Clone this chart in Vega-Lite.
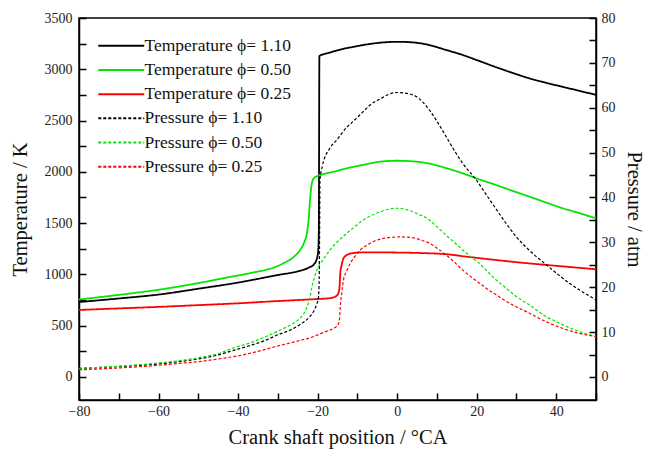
{
  "$schema": "https://vega.github.io/schema/vega-lite/v6.json",
  "autosize": {"type": "none"},
  "padding": {"left": 79, "top": 18, "right": 51, "bottom": 59},
  "width": 517,
  "height": 382,
  "background": "white",
  "config": {
    "view": {"stroke": "black", "strokeWidth": 1.5},
    "font": "Liberation Serif",
    "axis": {
      "grid": false,
      "domainColor": "black",
      "domainWidth": 1.5,
      "tickColor": "black",
      "tickWidth": 1.5,
      "labelFont": "Liberation Serif",
      "labelFontSize": 14,
      "labelColor": "#222",
      "titleFont": "Liberation Serif",
      "titleFontSize": 20.5,
      "titleFontWeight": "normal",
      "titleColor": "#111",
      "labelFlush": false,
      "labelOverlap": false
    },
    "legend": {
      "labelFont": "Liberation Serif",
      "labelFontSize": 17.5,
      "labelColor": "#111"
    }
  },
  "datasets": {
    "temperature": [
      {"angle": -80, "series": "Temperature ϕ= 1.10", "T": 730},
      {"angle": -70, "series": "Temperature ϕ= 1.10", "T": 765},
      {"angle": -60, "series": "Temperature ϕ= 1.10", "T": 803},
      {"angle": -50, "series": "Temperature ϕ= 1.10", "T": 860},
      {"angle": -40, "series": "Temperature ϕ= 1.10", "T": 920},
      {"angle": -30, "series": "Temperature ϕ= 1.10", "T": 994},
      {"angle": -25, "series": "Temperature ϕ= 1.10", "T": 1030},
      {"angle": -22, "series": "Temperature ϕ= 1.10", "T": 1070},
      {"angle": -21, "series": "Temperature ϕ= 1.10", "T": 1095},
      {"angle": -20.3, "series": "Temperature ϕ= 1.10", "T": 1140},
      {"angle": -19.9, "series": "Temperature ϕ= 1.10", "T": 1210},
      {"angle": -19.7, "series": "Temperature ϕ= 1.10", "T": 1400},
      {"angle": -19.55, "series": "Temperature ϕ= 1.10", "T": 3129},
      {"angle": -17, "series": "Temperature ϕ= 1.10", "T": 3162},
      {"angle": -14, "series": "Temperature ϕ= 1.10", "T": 3195},
      {"angle": -11, "series": "Temperature ϕ= 1.10", "T": 3219},
      {"angle": -8, "series": "Temperature ϕ= 1.10", "T": 3240},
      {"angle": -4.3, "series": "Temperature ϕ= 1.10", "T": 3259},
      {"angle": 0, "series": "Temperature ϕ= 1.10", "T": 3268},
      {"angle": 4, "series": "Temperature ϕ= 1.10", "T": 3262},
      {"angle": 8.1, "series": "Temperature ϕ= 1.10", "T": 3236},
      {"angle": 12, "series": "Temperature ϕ= 1.10", "T": 3192},
      {"angle": 16.5, "series": "Temperature ϕ= 1.10", "T": 3139},
      {"angle": 20, "series": "Temperature ϕ= 1.10", "T": 3090},
      {"angle": 24.9, "series": "Temperature ϕ= 1.10", "T": 3020},
      {"angle": 29, "series": "Temperature ϕ= 1.10", "T": 2965},
      {"angle": 33.3, "series": "Temperature ϕ= 1.10", "T": 2911},
      {"angle": 37.5, "series": "Temperature ϕ= 1.10", "T": 2868},
      {"angle": 41.7, "series": "Temperature ϕ= 1.10", "T": 2828},
      {"angle": 46, "series": "Temperature ϕ= 1.10", "T": 2788},
      {"angle": 50, "series": "Temperature ϕ= 1.10", "T": 2750},

      {"angle": -80, "series": "Temperature ϕ= 0.50", "T": 755},
      {"angle": -70, "series": "Temperature ϕ= 0.50", "T": 800},
      {"angle": -60, "series": "Temperature ϕ= 0.50", "T": 850},
      {"angle": -50, "series": "Temperature ϕ= 0.50", "T": 915},
      {"angle": -42, "series": "Temperature ϕ= 0.50", "T": 975},
      {"angle": -37, "series": "Temperature ϕ= 0.50", "T": 1012},
      {"angle": -30, "series": "Temperature ϕ= 0.50", "T": 1082},
      {"angle": -28.6, "series": "Temperature ϕ= 0.50", "T": 1108},
      {"angle": -26, "series": "Temperature ϕ= 0.50", "T": 1170},
      {"angle": -24.4, "series": "Temperature ϕ= 0.50", "T": 1238},
      {"angle": -23.3, "series": "Temperature ϕ= 0.50", "T": 1320},
      {"angle": -22.7, "series": "Temperature ϕ= 0.50", "T": 1400},
      {"angle": -22.2, "series": "Temperature ϕ= 0.50", "T": 1560},
      {"angle": -21.9, "series": "Temperature ϕ= 0.50", "T": 1725},
      {"angle": -21.45, "series": "Temperature ϕ= 0.50", "T": 1888},
      {"angle": -21, "series": "Temperature ϕ= 0.50", "T": 1935},
      {"angle": -20.3, "series": "Temperature ϕ= 0.50", "T": 1955},
      {"angle": -19.4, "series": "Temperature ϕ= 0.50", "T": 1969},
      {"angle": -16, "series": "Temperature ϕ= 0.50", "T": 2000},
      {"angle": -12.7, "series": "Temperature ϕ= 0.50", "T": 2034},
      {"angle": -8, "series": "Temperature ϕ= 0.50", "T": 2072},
      {"angle": -4.3, "series": "Temperature ϕ= 0.50", "T": 2099},
      {"angle": 0, "series": "Temperature ϕ= 0.50", "T": 2108},
      {"angle": 4, "series": "Temperature ϕ= 0.50", "T": 2102},
      {"angle": 8.1, "series": "Temperature ϕ= 0.50", "T": 2080},
      {"angle": 12, "series": "Temperature ϕ= 0.50", "T": 2040},
      {"angle": 16.5, "series": "Temperature ϕ= 0.50", "T": 1985},
      {"angle": 19.9, "series": "Temperature ϕ= 0.50", "T": 1937},
      {"angle": 24.9, "series": "Temperature ϕ= 0.50", "T": 1871},
      {"angle": 29, "series": "Temperature ϕ= 0.50", "T": 1815},
      {"angle": 33.3, "series": "Temperature ϕ= 0.50", "T": 1757},
      {"angle": 37.5, "series": "Temperature ϕ= 0.50", "T": 1700},
      {"angle": 41.7, "series": "Temperature ϕ= 0.50", "T": 1644},
      {"angle": 46, "series": "Temperature ϕ= 0.50", "T": 1595},
      {"angle": 50, "series": "Temperature ϕ= 0.50", "T": 1547},

      {"angle": -80, "series": "Temperature ϕ= 0.25", "T": 653},
      {"angle": -70, "series": "Temperature ϕ= 0.25", "T": 668},
      {"angle": -60, "series": "Temperature ϕ= 0.25", "T": 683},
      {"angle": -50, "series": "Temperature ϕ= 0.25", "T": 700},
      {"angle": -40, "series": "Temperature ϕ= 0.25", "T": 718},
      {"angle": -30, "series": "Temperature ϕ= 0.25", "T": 740},
      {"angle": -20, "series": "Temperature ϕ= 0.25", "T": 760},
      {"angle": -16.9, "series": "Temperature ϕ= 0.25", "T": 768},
      {"angle": -15.6, "series": "Temperature ϕ= 0.25", "T": 783},
      {"angle": -15, "series": "Temperature ϕ= 0.25", "T": 800},
      {"angle": -14.6, "series": "Temperature ϕ= 0.25", "T": 840},
      {"angle": -14.45, "series": "Temperature ϕ= 0.25", "T": 900},
      {"angle": -14.3, "series": "Temperature ϕ= 0.25", "T": 1011},
      {"angle": -13.9, "series": "Temperature ϕ= 0.25", "T": 1100},
      {"angle": -13.5, "series": "Temperature ϕ= 0.25", "T": 1157},
      {"angle": -12.8, "series": "Temperature ϕ= 0.25", "T": 1185},
      {"angle": -12.2, "series": "Temperature ϕ= 0.25", "T": 1198},
      {"angle": -11, "series": "Temperature ϕ= 0.25", "T": 1208},
      {"angle": -8.5, "series": "Temperature ϕ= 0.25", "T": 1215},
      {"angle": 0, "series": "Temperature ϕ= 0.25", "T": 1213},
      {"angle": 6, "series": "Temperature ϕ= 0.25", "T": 1208},
      {"angle": 12.3, "series": "Temperature ϕ= 0.25", "T": 1197},
      {"angle": 18, "series": "Temperature ϕ= 0.25", "T": 1170},
      {"angle": 24.9, "series": "Temperature ϕ= 0.25", "T": 1140},
      {"angle": 31, "series": "Temperature ϕ= 0.25", "T": 1115},
      {"angle": 37.5, "series": "Temperature ϕ= 0.25", "T": 1092},
      {"angle": 44, "series": "Temperature ϕ= 0.25", "T": 1070},
      {"angle": 50, "series": "Temperature ϕ= 0.25", "T": 1050}
    ],
    "pressure": [
      {"angle": -80, "series": "Pressure ϕ= 1.10", "P": 1.9},
      {"angle": -70, "series": "Pressure ϕ= 1.10", "P": 2.3},
      {"angle": -60, "series": "Pressure ϕ= 1.10", "P": 2.9},
      {"angle": -55, "series": "Pressure ϕ= 1.10", "P": 3.4},
      {"angle": -50, "series": "Pressure ϕ= 1.10", "P": 4.0},
      {"angle": -45, "series": "Pressure ϕ= 1.10", "P": 4.9},
      {"angle": -42, "series": "Pressure ϕ= 1.10", "P": 5.7},
      {"angle": -37, "series": "Pressure ϕ= 1.10", "P": 7.0},
      {"angle": -33, "series": "Pressure ϕ= 1.10", "P": 8.2},
      {"angle": -30, "series": "Pressure ϕ= 1.10", "P": 9.4},
      {"angle": -27, "series": "Pressure ϕ= 1.10", "P": 10.4},
      {"angle": -24.4, "series": "Pressure ϕ= 1.10", "P": 11.7},
      {"angle": -22, "series": "Pressure ϕ= 1.10", "P": 13.4},
      {"angle": -21, "series": "Pressure ϕ= 1.10", "P": 14.6},
      {"angle": -20.2, "series": "Pressure ϕ= 1.10", "P": 16.3},
      {"angle": -19.8, "series": "Pressure ϕ= 1.10", "P": 17.5},
      {"angle": -19.6, "series": "Pressure ϕ= 1.10", "P": 22},
      {"angle": -19.5, "series": "Pressure ϕ= 1.10", "P": 32},
      {"angle": -19.4, "series": "Pressure ϕ= 1.10", "P": 44},
      {"angle": -18.8, "series": "Pressure ϕ= 1.10", "P": 47},
      {"angle": -16.9, "series": "Pressure ϕ= 1.10", "P": 51},
      {"angle": -15.2, "series": "Pressure ϕ= 1.10", "P": 52.8},
      {"angle": -12.7, "series": "Pressure ϕ= 1.10", "P": 55.6},
      {"angle": -11, "series": "Pressure ϕ= 1.10", "P": 57},
      {"angle": -8, "series": "Pressure ϕ= 1.10", "P": 59.6},
      {"angle": -6.8, "series": "Pressure ϕ= 1.10", "P": 60.6},
      {"angle": -4, "series": "Pressure ϕ= 1.10", "P": 62.1},
      {"angle": -2.6, "series": "Pressure ϕ= 1.10", "P": 62.8},
      {"angle": 0, "series": "Pressure ϕ= 1.10", "P": 63.4},
      {"angle": 2.5, "series": "Pressure ϕ= 1.10", "P": 63.2},
      {"angle": 4.8, "series": "Pressure ϕ= 1.10", "P": 62.5},
      {"angle": 8.1, "series": "Pressure ϕ= 1.10", "P": 59.5},
      {"angle": 10, "series": "Pressure ϕ= 1.10", "P": 57},
      {"angle": 12.3, "series": "Pressure ϕ= 1.10", "P": 53.6},
      {"angle": 14.5, "series": "Pressure ϕ= 1.10", "P": 50.3},
      {"angle": 16.5, "series": "Pressure ϕ= 1.10", "P": 47.6},
      {"angle": 19.9, "series": "Pressure ϕ= 1.10", "P": 43.9},
      {"angle": 22.5, "series": "Pressure ϕ= 1.10", "P": 40.5},
      {"angle": 24.9, "series": "Pressure ϕ= 1.10", "P": 37.4},
      {"angle": 27.5, "series": "Pressure ϕ= 1.10", "P": 34.1},
      {"angle": 29.9, "series": "Pressure ϕ= 1.10", "P": 31.3},
      {"angle": 33.5, "series": "Pressure ϕ= 1.10", "P": 28},
      {"angle": 37.5, "series": "Pressure ϕ= 1.10", "P": 25},
      {"angle": 40.5, "series": "Pressure ϕ= 1.10", "P": 22.8},
      {"angle": 43.3, "series": "Pressure ϕ= 1.10", "P": 20.9},
      {"angle": 46, "series": "Pressure ϕ= 1.10", "P": 19.3},
      {"angle": 48.8, "series": "Pressure ϕ= 1.10", "P": 17.8},
      {"angle": 50, "series": "Pressure ϕ= 1.10", "P": 17.2},

      {"angle": -80, "series": "Pressure ϕ= 0.50", "P": 1.9},
      {"angle": -70, "series": "Pressure ϕ= 0.50", "P": 2.4},
      {"angle": -60, "series": "Pressure ϕ= 0.50", "P": 3.1},
      {"angle": -55, "series": "Pressure ϕ= 0.50", "P": 3.6},
      {"angle": -50, "series": "Pressure ϕ= 0.50", "P": 4.3},
      {"angle": -45, "series": "Pressure ϕ= 0.50", "P": 5.2},
      {"angle": -42, "series": "Pressure ϕ= 0.50", "P": 6.2},
      {"angle": -37, "series": "Pressure ϕ= 0.50", "P": 7.6},
      {"angle": -33, "series": "Pressure ϕ= 0.50", "P": 9.0},
      {"angle": -30, "series": "Pressure ϕ= 0.50", "P": 10.2},
      {"angle": -27, "series": "Pressure ϕ= 0.50", "P": 11.5},
      {"angle": -25.2, "series": "Pressure ϕ= 0.50", "P": 12.5},
      {"angle": -24, "series": "Pressure ϕ= 0.50", "P": 13.5},
      {"angle": -22.7, "series": "Pressure ϕ= 0.50", "P": 15.5},
      {"angle": -22, "series": "Pressure ϕ= 0.50", "P": 17.5},
      {"angle": -21.45, "series": "Pressure ϕ= 0.50", "P": 20},
      {"angle": -20.8, "series": "Pressure ϕ= 0.50", "P": 22.2},
      {"angle": -20.2, "series": "Pressure ϕ= 0.50", "P": 23.8},
      {"angle": -18.5, "series": "Pressure ϕ= 0.50", "P": 26.3},
      {"angle": -16.9, "series": "Pressure ϕ= 0.50", "P": 28.3},
      {"angle": -14.8, "series": "Pressure ϕ= 0.50", "P": 30.3},
      {"angle": -12.7, "series": "Pressure ϕ= 0.50", "P": 32.0},
      {"angle": -10.5, "series": "Pressure ϕ= 0.50", "P": 33.6},
      {"angle": -8.5, "series": "Pressure ϕ= 0.50", "P": 35},
      {"angle": -6, "series": "Pressure ϕ= 0.50", "P": 36.2},
      {"angle": -4, "series": "Pressure ϕ= 0.50", "P": 36.9},
      {"angle": -2, "series": "Pressure ϕ= 0.50", "P": 37.4},
      {"angle": 0, "series": "Pressure ϕ= 0.50", "P": 37.6},
      {"angle": 2.4, "series": "Pressure ϕ= 0.50", "P": 37.3},
      {"angle": 4.8, "series": "Pressure ϕ= 0.50", "P": 36.5},
      {"angle": 8.1, "series": "Pressure ϕ= 0.50", "P": 35},
      {"angle": 10, "series": "Pressure ϕ= 0.50", "P": 33.5},
      {"angle": 12.3, "series": "Pressure ϕ= 0.50", "P": 31.6},
      {"angle": 14.5, "series": "Pressure ϕ= 0.50", "P": 29.9},
      {"angle": 16.5, "series": "Pressure ϕ= 0.50", "P": 28.3},
      {"angle": 18.5, "series": "Pressure ϕ= 0.50", "P": 26.8},
      {"angle": 20.7, "series": "Pressure ϕ= 0.50", "P": 25.3},
      {"angle": 22.8, "series": "Pressure ϕ= 0.50", "P": 23.4},
      {"angle": 24.9, "series": "Pressure ϕ= 0.50", "P": 21.6},
      {"angle": 27, "series": "Pressure ϕ= 0.50", "P": 20.1},
      {"angle": 29, "series": "Pressure ϕ= 0.50", "P": 18.6},
      {"angle": 31, "series": "Pressure ϕ= 0.50", "P": 17.3},
      {"angle": 33.3, "series": "Pressure ϕ= 0.50", "P": 16.0},
      {"angle": 35.5, "series": "Pressure ϕ= 0.50", "P": 14.6},
      {"angle": 37.5, "series": "Pressure ϕ= 0.50", "P": 13.4},
      {"angle": 39.6, "series": "Pressure ϕ= 0.50", "P": 12.5},
      {"angle": 41.7, "series": "Pressure ϕ= 0.50", "P": 11.6},
      {"angle": 43.8, "series": "Pressure ϕ= 0.50", "P": 10.8},
      {"angle": 45.8, "series": "Pressure ϕ= 0.50", "P": 10.1},
      {"angle": 48, "series": "Pressure ϕ= 0.50", "P": 9.5},
      {"angle": 50, "series": "Pressure ϕ= 0.50", "P": 9.0},

      {"angle": -80, "series": "Pressure ϕ= 0.25", "P": 1.6},
      {"angle": -70, "series": "Pressure ϕ= 0.25", "P": 2.0},
      {"angle": -60, "series": "Pressure ϕ= 0.25", "P": 2.6},
      {"angle": -55, "series": "Pressure ϕ= 0.25", "P": 3.0},
      {"angle": -50, "series": "Pressure ϕ= 0.25", "P": 3.4},
      {"angle": -45, "series": "Pressure ϕ= 0.25", "P": 4.0},
      {"angle": -40, "series": "Pressure ϕ= 0.25", "P": 4.7},
      {"angle": -35, "series": "Pressure ϕ= 0.25", "P": 5.7},
      {"angle": -30, "series": "Pressure ϕ= 0.25", "P": 6.9},
      {"angle": -25, "series": "Pressure ϕ= 0.25", "P": 8.0},
      {"angle": -21, "series": "Pressure ϕ= 0.25", "P": 9.0},
      {"angle": -18, "series": "Pressure ϕ= 0.25", "P": 10.1},
      {"angle": -16, "series": "Pressure ϕ= 0.25", "P": 10.8},
      {"angle": -15.2, "series": "Pressure ϕ= 0.25", "P": 11.3},
      {"angle": -14.7, "series": "Pressure ϕ= 0.25", "P": 12.0},
      {"angle": -14.5, "series": "Pressure ϕ= 0.25", "P": 12.9},
      {"angle": -14.3, "series": "Pressure ϕ= 0.25", "P": 15.7},
      {"angle": -13.9, "series": "Pressure ϕ= 0.25", "P": 19},
      {"angle": -13.5, "series": "Pressure ϕ= 0.25", "P": 21.6},
      {"angle": -12.7, "series": "Pressure ϕ= 0.25", "P": 23.6},
      {"angle": -11.8, "series": "Pressure ϕ= 0.25", "P": 25.3},
      {"angle": -10.5, "series": "Pressure ϕ= 0.25", "P": 27},
      {"angle": -9.3, "series": "Pressure ϕ= 0.25", "P": 28.3},
      {"angle": -7.5, "series": "Pressure ϕ= 0.25", "P": 29.4},
      {"angle": -5.9, "series": "Pressure ϕ= 0.25", "P": 30.2},
      {"angle": -3.8, "series": "Pressure ϕ= 0.25", "P": 30.8},
      {"angle": -1.7, "series": "Pressure ϕ= 0.25", "P": 31.1},
      {"angle": 0.8, "series": "Pressure ϕ= 0.25", "P": 31.2},
      {"angle": 4.2, "series": "Pressure ϕ= 0.25", "P": 31.0},
      {"angle": 6, "series": "Pressure ϕ= 0.25", "P": 30.5},
      {"angle": 8.1, "series": "Pressure ϕ= 0.25", "P": 29.8},
      {"angle": 10.2, "series": "Pressure ϕ= 0.25", "P": 28.6},
      {"angle": 12.3, "series": "Pressure ϕ= 0.25", "P": 27.2},
      {"angle": 14.5, "series": "Pressure ϕ= 0.25", "P": 25.5},
      {"angle": 16.5, "series": "Pressure ϕ= 0.25", "P": 23.8},
      {"angle": 18.6, "series": "Pressure ϕ= 0.25", "P": 22.3},
      {"angle": 20.7, "series": "Pressure ϕ= 0.25", "P": 20.9},
      {"angle": 22.8, "series": "Pressure ϕ= 0.25", "P": 19.5},
      {"angle": 24.9, "series": "Pressure ϕ= 0.25", "P": 18.3},
      {"angle": 27, "series": "Pressure ϕ= 0.25", "P": 17.1},
      {"angle": 29.1, "series": "Pressure ϕ= 0.25", "P": 16.0},
      {"angle": 31.2, "series": "Pressure ϕ= 0.25", "P": 15.1},
      {"angle": 33.3, "series": "Pressure ϕ= 0.25", "P": 14.2},
      {"angle": 35.4, "series": "Pressure ϕ= 0.25", "P": 13.2},
      {"angle": 37.5, "series": "Pressure ϕ= 0.25", "P": 12.3},
      {"angle": 39.6, "series": "Pressure ϕ= 0.25", "P": 11.5},
      {"angle": 41.7, "series": "Pressure ϕ= 0.25", "P": 10.8},
      {"angle": 43.8, "series": "Pressure ϕ= 0.25", "P": 10.2},
      {"angle": 45.8, "series": "Pressure ϕ= 0.25", "P": 9.7},
      {"angle": 48, "series": "Pressure ϕ= 0.25", "P": 9.3},
      {"angle": 50, "series": "Pressure ϕ= 0.25", "P": 9.0}
    ]
  },
  "encoding": {
    "x": {
      "field": "angle",
      "type": "quantitative",
      "scale": {"domain": [-80, 50], "nice": false, "zero": false},
      "axis": {
        "title": "Crank shaft position / °CA",
        "values": [-80, -70, -60, -50, -40, -30, -20, -10, 0, 10, 20, 30, 40, 50],
        "labelExpr": "datum.value % 20 === 0 ? datum.label : ''",
        "labelFont": "Liberation Serif",
        "tickSize": -7,
        "labelPadding": 11,
        "titlePadding": 9
      }
    },
    "color": {
      "field": "series",
      "type": "nominal",
      "scale": {
        "domain": ["Temperature ϕ= 1.10", "Temperature ϕ= 0.50", "Temperature ϕ= 0.25", "Pressure ϕ= 1.10", "Pressure ϕ= 0.50", "Pressure ϕ= 0.25"],
        "range": ["#000000", "#00e600", "#ff0000", "#000000", "#00e600", "#ff0000"]
      },
      "legend": {
        "title": null,
        "orient": "none",
        "legendX": 33.5,
        "legendY": 19,
        "symbolType": "M-4,0H4",
        "symbolSize": 132,
        "symbolStrokeWidth": 2,
        "rowPadding": 5.2,
        "labelOffset": 14.5,
        "labelFont": "Liberation Serif",
        "labelFontSize": 17.5,
        "padding": 0
      }
    },
    "strokeDash": {
      "field": "series",
      "type": "nominal",
      "scale": {
        "domain": ["Temperature ϕ= 1.10", "Temperature ϕ= 0.50", "Temperature ϕ= 0.25", "Pressure ϕ= 1.10", "Pressure ϕ= 0.50", "Pressure ϕ= 0.25"],
        "range": [[1, 0], [1, 0], [1, 0], [3, 2], [3, 2], [3, 2]]
      },
      "legend": null
    }
  },
  "layer": [
    {
      "data": {"name": "temperature"},
      "mark": {"type": "line", "strokeWidth": 1.8, "interpolate": "monotone"},
      "encoding": {
        "y": {
          "field": "T",
          "type": "quantitative",
          "scale": {"domain": [-225, 3500], "nice": false, "zero": false},
          "axis": {
            "title": "Temperature / K",
            "orient": "left",
            "values": [0, 250, 500, 750, 1000, 1250, 1500, 1750, 2000, 2250, 2500, 2750, 3000, 3250, 3500],
            "labelExpr": "datum.value % 500 === 0 ? datum.label : ''",
            "labelFont": "Liberation Serif",
            "format": "d",
            "tickSize": -7,
            "labelPadding": 14,
            "titlePadding": 14
          }
        }
      }
    },
    {
      "data": {"name": "pressure"},
      "mark": {"type": "line", "strokeWidth": 1.2, "interpolate": "monotone"},
      "encoding": {
        "y": {
          "field": "P",
          "type": "quantitative",
          "scale": {"domain": [-5.14, 80], "nice": false, "zero": false},
          "axis": {
            "title": "Pressure / atm",
            "orient": "right",
            "values": [0, 5, 10, 15, 20, 25, 30, 35, 40, 45, 50, 55, 60, 65, 70, 75, 80],
            "labelExpr": "datum.value % 10 === 0 ? datum.label : ''",
            "labelFont": "Liberation Serif",
            "tickSize": -7,
            "labelPadding": 12,
            "titlePadding": 8
          }
        }
      }
    }
  ],
  "resolve": {"scale": {"y": "independent"}}
}
